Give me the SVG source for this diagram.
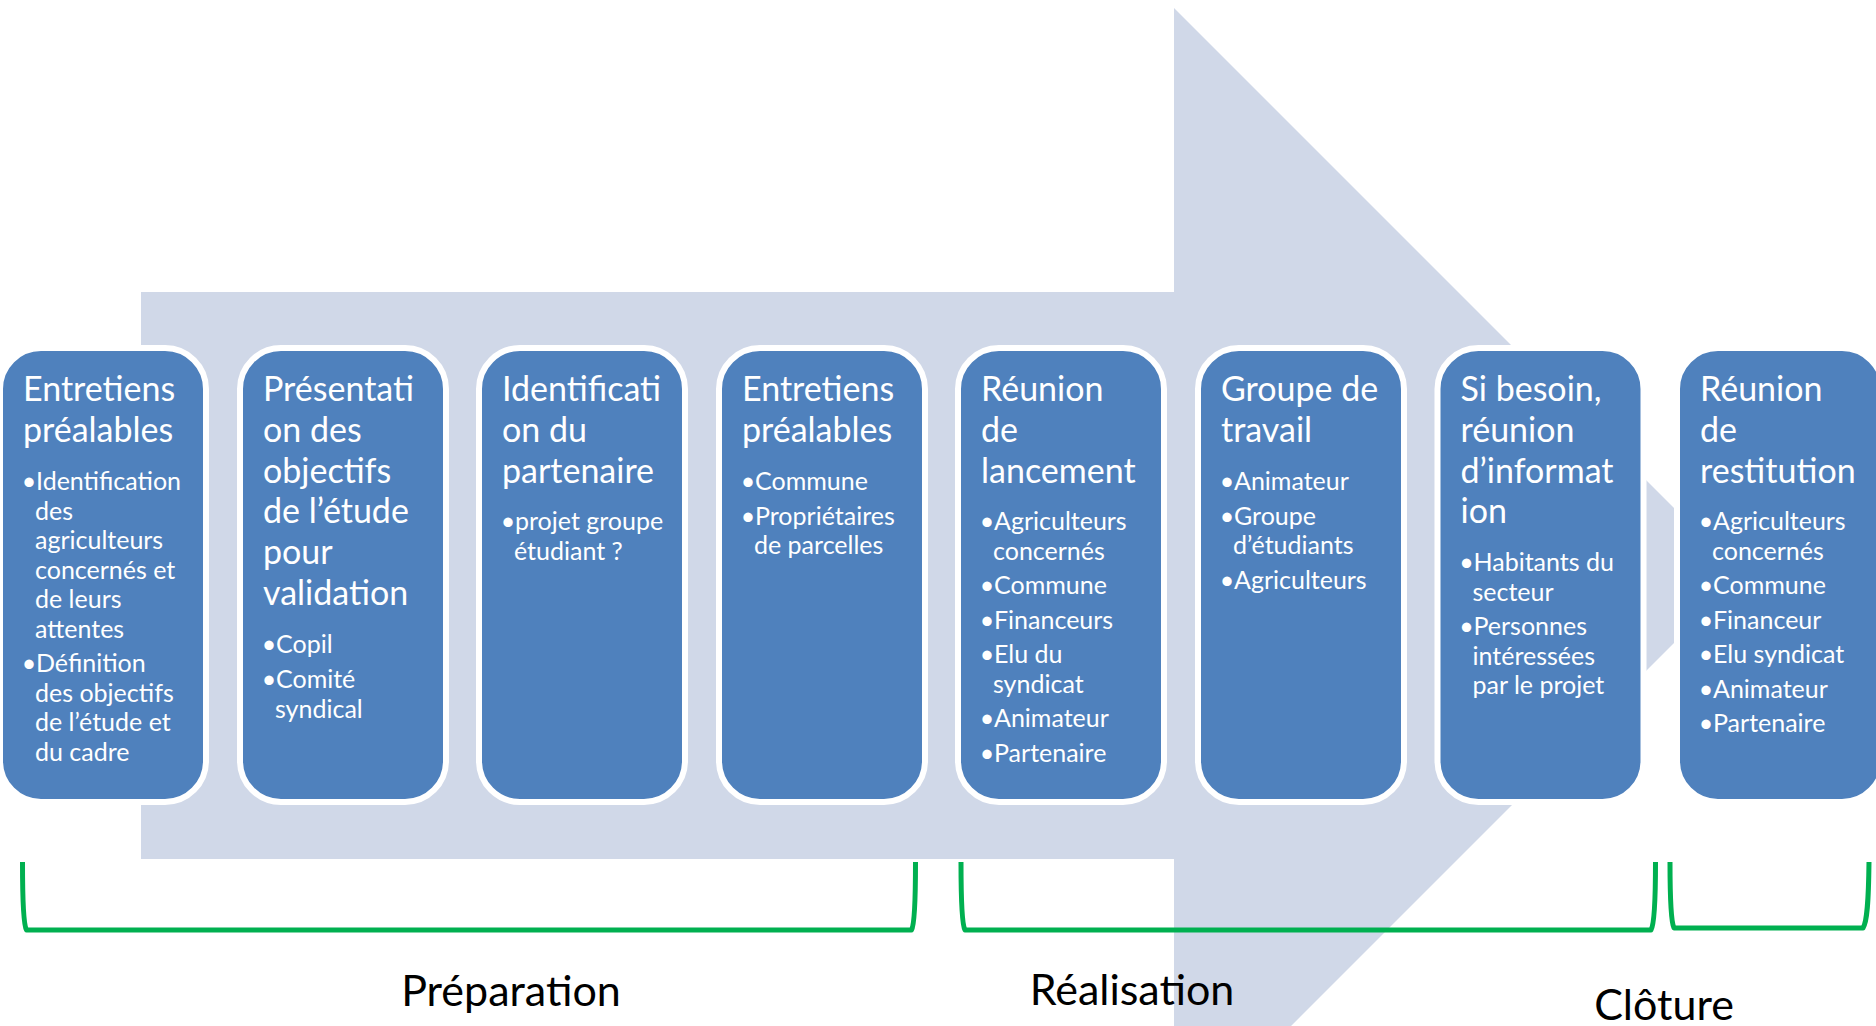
<svg xmlns="http://www.w3.org/2000/svg" width="1876" height="1026" viewBox="0 0 1876 1026">
<style>
.box{fill:#4F81BD;stroke:#FFFFFF;stroke-width:6}
.t{font-family:Lato,"Liberation Sans",sans-serif;font-size:34px;fill:#FFFFFF}
.b{font-family:Lato,"Liberation Sans",sans-serif;font-size:25px;fill:#FFFFFF}
.d{font-family:Lato,"Liberation Sans",sans-serif;font-size:25px;fill:#FFFFFF;text-anchor:middle}
.lbl{font-family:Lato,"Liberation Sans",sans-serif;font-size:43px;fill:#000000;text-anchor:middle}
.br{fill:none;stroke:#00B050;stroke-width:5;stroke-linejoin:round}
</style>
<rect width="1876" height="1026" fill="#FFFFFF"/>
<g id="arrow">
<polygon points="141,292 1174,292 1174,8 1741.5,575.5 1174,1143 1174,859 141,859" fill="#D0D8E8"/>
</g>
<g id="box1">
<rect class="box" x="0" y="348" width="206" height="454" rx="41"/>
<text class="t" x="23" y="401">Entretiens</text>
<text class="t" x="23" y="441.8">préalables</text>
<text class="d" x="29" y="490">•</text><text class="b" x="36" y="490">Identification</text>
<text class="b" x="35" y="519.5">des</text>
<text class="b" x="35" y="549">agriculteurs</text>
<text class="b" x="35" y="578.5">concernés et</text>
<text class="b" x="35" y="608">de leurs</text>
<text class="b" x="35" y="637.5">attentes</text>
<text class="d" x="29" y="672">•</text><text class="b" x="36" y="672">Définition</text>
<text class="b" x="35" y="701.5">des objectifs</text>
<text class="b" x="35" y="731">de l’étude et</text>
<text class="b" x="35" y="760.5">du cadre</text>
</g>
<g id="box2">
<rect class="box" x="240" y="348" width="206" height="454" rx="41"/>
<text class="t" x="263" y="401">Présentati</text>
<text class="t" x="263" y="441.8">on des</text>
<text class="t" x="263" y="482.6">objectifs</text>
<text class="t" x="263" y="523.4">de l’étude</text>
<text class="t" x="263" y="564.2">pour</text>
<text class="t" x="263" y="605">validation</text>
<text class="d" x="269" y="653">•</text><text class="b" x="276" y="653">Copil</text>
<text class="d" x="269" y="688">•</text><text class="b" x="276" y="688">Comité</text>
<text class="b" x="275" y="717.5">syndical</text>
</g>
<g id="box3">
<rect class="box" x="479" y="348" width="206" height="454" rx="41"/>
<text class="t" x="502" y="401">Identificati</text>
<text class="t" x="502" y="441.8">on du</text>
<text class="t" x="502" y="482.6">partenaire</text>
<text class="d" x="508" y="530">•</text><text class="b" x="515" y="530">projet groupe</text>
<text class="b" x="514" y="559.5">étudiant ?</text>
</g>
<g id="box4">
<rect class="box" x="719" y="348" width="206" height="454" rx="41"/>
<text class="t" x="742" y="401">Entretiens</text>
<text class="t" x="742" y="441.8">préalables</text>
<text class="d" x="748" y="490">•</text><text class="b" x="755" y="490">Commune</text>
<text class="d" x="748" y="524.5">•</text><text class="b" x="755" y="524.5">Propriétaires</text>
<text class="b" x="754" y="554">de parcelles</text>
</g>
<g id="box5">
<rect class="box" x="958" y="348" width="206" height="454" rx="41"/>
<text class="t" x="981" y="401">Réunion</text>
<text class="t" x="981" y="441.8">de</text>
<text class="t" x="981" y="482.6">lancement</text>
<text class="d" x="987" y="530">•</text><text class="b" x="994" y="530">Agriculteurs</text>
<text class="b" x="993" y="559.5">concernés</text>
<text class="d" x="987" y="594">•</text><text class="b" x="994" y="594">Commune</text>
<text class="d" x="987" y="628.5">•</text><text class="b" x="994" y="628.5">Financeurs</text>
<text class="d" x="987" y="663">•</text><text class="b" x="994" y="663">Elu du</text>
<text class="b" x="993" y="692.5">syndicat</text>
<text class="d" x="987" y="727">•</text><text class="b" x="994" y="727">Animateur</text>
<text class="d" x="987" y="761.5">•</text><text class="b" x="994" y="761.5">Partenaire</text>
</g>
<g id="box6">
<rect class="box" x="1198" y="348" width="206" height="454" rx="41"/>
<text class="t" x="1221" y="401">Groupe de</text>
<text class="t" x="1221" y="441.8">travail</text>
<text class="d" x="1227" y="490">•</text><text class="b" x="1234" y="490">Animateur</text>
<text class="d" x="1227" y="524.5">•</text><text class="b" x="1234" y="524.5">Groupe</text>
<text class="b" x="1233" y="554">d’étudiants</text>
<text class="d" x="1227" y="588.5">•</text><text class="b" x="1234" y="588.5">Agriculteurs</text>
</g>
<g id="box7">
<rect class="box" x="1437.5" y="348" width="206" height="454" rx="41"/>
<text class="t" x="1460.5" y="401">Si besoin,</text>
<text class="t" x="1460.5" y="441.8">réunion</text>
<text class="t" x="1460.5" y="482.6">d’informat</text>
<text class="t" x="1460.5" y="523.4">ion</text>
<text class="d" x="1466.5" y="571">•</text><text class="b" x="1473.5" y="571">Habitants du</text>
<text class="b" x="1472.5" y="600.5">secteur</text>
<text class="d" x="1466.5" y="635">•</text><text class="b" x="1473.5" y="635">Personnes</text>
<text class="b" x="1472.5" y="664.5">intéressées</text>
<text class="b" x="1472.5" y="694">par le projet</text>
</g>
<g id="box8">
<rect class="box" x="1677" y="348" width="206" height="454" rx="41"/>
<text class="t" x="1700" y="401">Réunion</text>
<text class="t" x="1700" y="441.8">de</text>
<text class="t" x="1700" y="482.6">restitution</text>
<text class="d" x="1706" y="530">•</text><text class="b" x="1713" y="530">Agriculteurs</text>
<text class="b" x="1712" y="559.5">concernés</text>
<text class="d" x="1706" y="594">•</text><text class="b" x="1713" y="594">Commune</text>
<text class="d" x="1706" y="628.5">•</text><text class="b" x="1713" y="628.5">Financeur</text>
<text class="d" x="1706" y="663">•</text><text class="b" x="1713" y="663">Elu syndicat</text>
<text class="d" x="1706" y="697.5">•</text><text class="b" x="1713" y="697.5">Animateur</text>
<text class="d" x="1706" y="732">•</text><text class="b" x="1713" y="732">Partenaire</text>
</g>
<g id="connectors">
<path class="br" d="M22.5 862 C22.5 905 23.5 925 26.5 930 L911.5 930 C914.5 925 915.5 905 915.5 862"/>
<path class="br" d="M961 862 C961 905 962 925 965 930 L1651 930 C1654 925 1655.5 905 1655.5 862"/>
<path class="br" d="M1670 862 C1670 903 1671 922 1674 928 L1863 928 C1867 922 1868.5 903 1869 862"/>
</g>
<g id="labels">
<text class="lbl" x="511" y="1006">Préparation</text>
<text class="lbl" x="1132" y="1005">Réalisation</text>
<text class="lbl" x="1664" y="1020">Clôture</text>
</g>
</svg>
